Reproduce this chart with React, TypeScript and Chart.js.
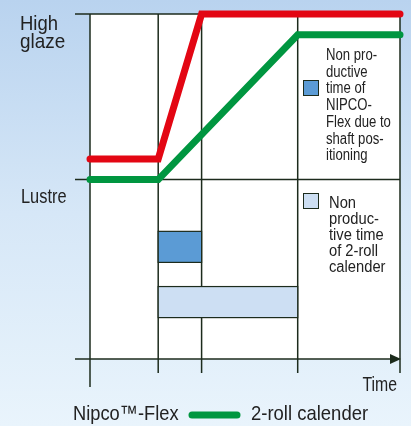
import React, { useEffect, useRef } from 'react';
import { Chart, registerables } from 'chart.js';
Chart.register(...registerables);

// ---- data ----
const xMarks = [0, 22, 36, 67, 100];
const levelValues = [100, 52];
const levelLabels = [['High', 'glaze'], ['Lustre']];
const nipcoX = [0, 22, 36, 100];
const nipcoY = [58, 58, 100, 100];
const rollX = [0, 22, 67, 100];
const rollY = [52, 52, 94, 94];
const nipcoBarX = [22, 36];
const nipcoBarY = [28, 37];
const rollBarX = [22, 67];
const rollBarY = [12, 21];
const nipcoNote = ['Non pro-', 'ductive', 'time of', 'NIPCO-', 'Flex due to', 'shaft pos-', 'itioning'];
const rollNote = ['Non', 'produc-', 'tive time', 'of 2-roll', 'calender'];
const seriesNames = ['Nipco™-Flex', '2-roll calender'];
const axisTitle = 'Time';

const RED = '#e30613';
const GREEN = '#009640';
const DARK_BAR = '#5b9bd5';
const LIGHT_BAR = '#cddff3';
const INK = '#1c2b1c';
const TEXT = '#222222';
const FONT = '"Liberation Sans", Arial, sans-serif';

function txt(ctx: CanvasRenderingContext2D, s: string, x: number, y: number, sx: number, align: 'left' | 'right' = 'left') {
  ctx.save();
  ctx.translate(x, y);
  ctx.scale(sx, 1);
  ctx.textAlign = align;
  ctx.fillText(s, 0, 0);
  ctx.restore();
}

const drawPlugin = {
  id: 'processDiagram',
  beforeDatasetsDraw(chart: any) {
    const { ctx, chartArea, scales } = chart;
    const xs = scales.x, ys = scales.y;
    const L = chartArea.left, R = chartArea.right, T = chartArea.top, B = chartArea.bottom;
    ctx.save();
    ctx.strokeStyle = INK;
    ctx.lineWidth = 1.5;
    xMarks.forEach((v, i) => {
      const px = xs.getPixelForValue(v);
      ctx.beginPath();
      ctx.moveTo(px, T);
      ctx.lineTo(px, i === 0 ? B + 28 : B + 14);
      ctx.stroke();
    });
    levelValues.forEach((v) => {
      const py = ys.getPixelForValue(v);
      ctx.beginPath();
      ctx.moveTo(L - 15, py);
      ctx.lineTo(R, py);
      ctx.stroke();
    });
    const by = ys.getPixelForValue(0);
    ctx.beginPath();
    ctx.moveTo(L - 15, by);
    ctx.lineTo(R - 6, by);
    ctx.stroke();
    ctx.fillStyle = INK;
    ctx.beginPath();
    ctx.moveTo(R + 1, by);
    ctx.lineTo(R - 10, by - 5);
    ctx.lineTo(R - 10, by + 5);
    ctx.closePath();
    ctx.fill();
    const bar = (bx: number[], byv: number[], color: string) => {
      const x0 = xs.getPixelForValue(bx[0]);
      const x1 = xs.getPixelForValue(bx[1]);
      const y0 = ys.getPixelForValue(byv[1]);
      const y1 = ys.getPixelForValue(byv[0]);
      ctx.fillStyle = color;
      ctx.fillRect(x0, y0, x1 - x0, y1 - y0);
      ctx.strokeStyle = INK;
      ctx.lineWidth = 1.2;
      ctx.strokeRect(x0, y0, x1 - x0, y1 - y0);
    };
    bar(nipcoBarX, nipcoBarY, DARK_BAR);
    bar(rollBarX, rollBarY, LIGHT_BAR);
    ctx.restore();
  },
  afterDraw(chart: any) {
    const { ctx, chartArea, scales } = chart;
    const ys = scales.y;
    const R = chartArea.right, B = chartArea.bottom;
    ctx.save();
    ctx.fillStyle = TEXT;
    ctx.textBaseline = 'alphabetic';
    ctx.font = `21px ${FONT}`;
    const hy = ys.getPixelForValue(levelValues[0]);
    txt(ctx, levelLabels[0][0], 20, hy + 16, 0.88);
    txt(ctx, levelLabels[0][1], 20, hy + 34, 0.9);
    const ly = ys.getPixelForValue(levelValues[1]);
    txt(ctx, levelLabels[1][0], 21, ly + 23, 0.78);
    ctx.font = `20px ${FONT}`;
    txt(ctx, axisTitle, R - 3, B + 32, 0.79, 'right');
    const sq = (x: number, y: number, color: string) => {
      ctx.fillStyle = color;
      ctx.fillRect(x, y, 16, 16);
      ctx.strokeStyle = INK;
      ctx.lineWidth = 1;
      ctx.strokeRect(x + 0.5, y + 0.5, 15, 15);
    };
    sq(303, 80, DARK_BAR);
    sq(303, 193, LIGHT_BAR);
    ctx.fillStyle = TEXT;
    ctx.font = `16px ${FONT}`;
    nipcoNote.forEach((t, i) => txt(ctx, t, 326, 60 + i * 16.7, 0.82));
    rollNote.forEach((t, i) => txt(ctx, t, 329, 208 + i * 16, 0.92));
    ctx.font = `21px ${FONT}`;
    txt(ctx, seriesNames[0], 73, 420, 0.87);
    ctx.strokeStyle = GREEN;
    ctx.lineWidth = 7;
    ctx.lineCap = 'round';
    ctx.beginPath();
    ctx.moveTo(192, 415);
    ctx.lineTo(237, 415);
    ctx.stroke();
    ctx.fillStyle = TEXT;
    txt(ctx, seriesNames[1], 251, 420, 0.88);
    ctx.restore();
  },
};

export default function App() {
  const ref = useRef<HTMLCanvasElement>(null);
  useEffect(() => {
    if (!ref.current) return;
    const chart = new Chart(ref.current, {
      type: 'line',
      data: {
        datasets: [
          {
            label: seriesNames[0],
            data: nipcoX.map((x, i) => ({ x, y: nipcoY[i] })),
            borderColor: RED,
            borderWidth: 7,
            borderCapStyle: 'round',
            borderJoinStyle: 'miter',
            pointRadius: 0,
            tension: 0,
            clip: false,
          } as any,
          {
            label: seriesNames[1],
            data: rollX.map((x, i) => ({ x, y: rollY[i] })),
            borderColor: GREEN,
            borderWidth: 7,
            borderCapStyle: 'round',
            borderJoinStyle: 'miter',
            pointRadius: 0,
            tension: 0,
            clip: false,
          } as any,
        ],
      },
      options: {
        responsive: false,
        animation: false,
        layout: { padding: { left: 90, right: 11, top: 14, bottom: 67 } },
        scales: {
          x: { type: 'linear', min: 0, max: 100, display: false },
          y: { type: 'linear', min: 0, max: 100, display: false },
        },
        plugins: { legend: { display: false }, tooltip: { enabled: false } },
      },
      plugins: [drawPlugin],
    });
    return () => chart.destroy();
  }, []);
  return (
    <div
      style={{
        position: 'absolute',
        left: 0,
        top: 0,
        width: 411,
        height: 426,
        background: 'linear-gradient(180deg, #b9d3ef 0%, #d6e7f7 50%, #e9f4fc 100%)',
      }}
    >
      <div style={{ position: 'absolute', left: 90, top: 14, width: 310, height: 345, background: '#ffffff' }} />
      <canvas ref={ref} width={411} height={426} style={{ position: 'absolute', left: 0, top: 0, display: 'block' }} />
    </div>
  );
}
